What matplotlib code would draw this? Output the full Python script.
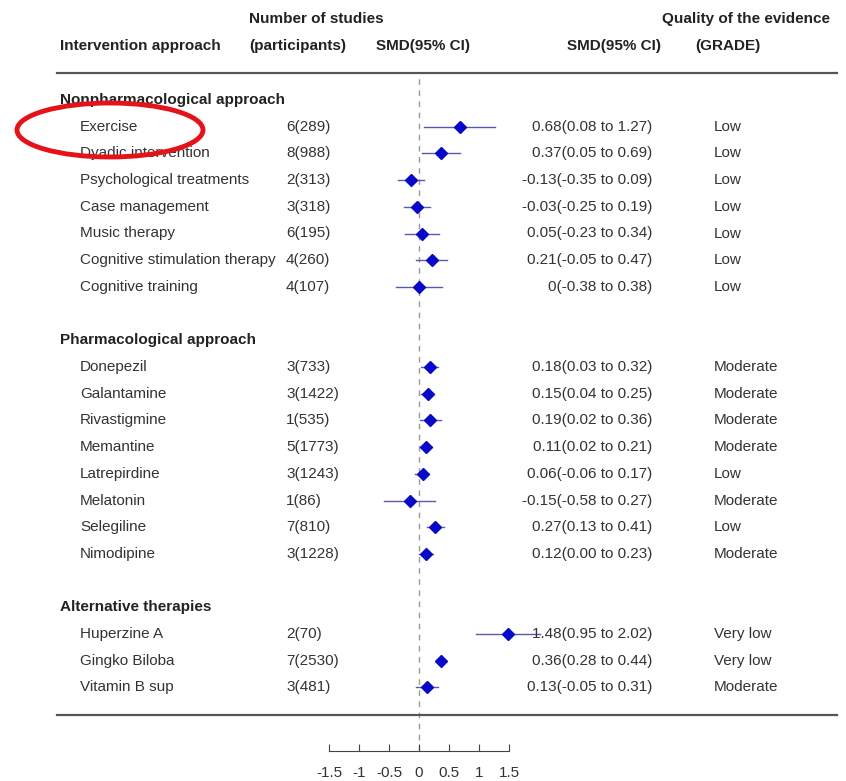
import matplotlib
matplotlib.use("Agg")
import matplotlib.pyplot as plt
from matplotlib import transforms
from matplotlib.lines import Line2D
from matplotlib.patches import Ellipse

plt.rcParams['font.family'] = ['Liberation Sans', 'DejaVu Sans']

# groups of the forest plot
groups = ["Nonpharmacological approach", "Pharmacological approach", "Alternative therapies"]

nonpharm_names = ["Exercise", "Dyadic intervention", "Psychological treatments", "Case management",
                  "Music therapy", "Cognitive stimulation therapy", "Cognitive training"]
nonpharm_studies = ["6(289)", "8(988)", "2(313)", "3(318)", "6(195)", "4(260)", "4(107)"]
nonpharm_smd = [0.68, 0.37, -0.13, -0.03, 0.05, 0.21, 0]
nonpharm_lo = [0.08, 0.05, -0.35, -0.25, -0.23, -0.05, -0.38]
nonpharm_hi = [1.27, 0.69, 0.09, 0.19, 0.34, 0.47, 0.38]
nonpharm_grade = ["Low", "Low", "Low", "Low", "Low", "Low", "Low"]

pharm_names = ["Donepezil", "Galantamine", "Rivastigmine", "Memantine", "Latrepirdine",
               "Melatonin", "Selegiline", "Nimodipine"]
pharm_studies = ["3(733)", "3(1422)", "1(535)", "5(1773)", "3(1243)", "1(86)", "7(810)", "3(1228)"]
pharm_smd = [0.18, 0.15, 0.19, 0.11, 0.06, -0.15, 0.27, 0.12]
pharm_lo = [0.03, 0.04, 0.02, 0.02, -0.06, -0.58, 0.13, 0.00]
pharm_hi = [0.32, 0.25, 0.36, 0.21, 0.17, 0.27, 0.41, 0.23]
pharm_grade = ["Moderate", "Moderate", "Moderate", "Moderate", "Low", "Moderate", "Low", "Moderate"]

alt_names = ["Huperzine A", "Gingko Biloba", "Vitamin B sup"]
alt_studies = ["2(70)", "7(2530)", "3(481)"]
alt_smd = [1.48, 0.36, 0.13]
alt_lo = [0.95, 0.28, -0.05]
alt_hi = [2.02, 0.44, 0.31]
alt_grade = ["Very low", "Very low", "Moderate"]

xticks = [-1.5, -1, -0.5, 0, 0.5, 1, 1.5]
xticklabels = ["-1.5", "-1", "-0.5", "0", "0.5", "1", "1.5"]

TXT = "#333333"
W, H = 846, 781

fig = plt.figure(figsize=(W / 100, H / 100), dpi=100)
# forest axes: x -2..2 maps to pixels 299..539, row 0 sits at y=100 px
row_h = 26.7
row0 = 100
ax = fig.add_axes([299 / W, 1 - 751 / H, 240 / W, (751 - 73) / H])
ax.set_xlim(-2, 2)
ax.set_ylim((751 - row0) / row_h, (73 - row0) / row_h)
for s in ["top", "left", "right"]:
    ax.spines[s].set_visible(False)
ax.spines["bottom"].set_bounds(-1.5, 1.5)
ax.spines["bottom"].set_color("#444444")
ax.set_yticks([])
ax.set_xticks(xticks)
ax.set_xticklabels(xticklabels)
ax.tick_params(axis="x", direction="in", length=5, pad=11, labelsize=11,
               colors="#444444", labelcolor=TXT)
ax.axvline(0, color="#999999", lw=1, ls=(0, (4, 4)), zorder=0)

trans = transforms.blended_transform_factory(fig.transFigure, ax.transData)

def fx(px):
    return px / W

def fmt(v):
    return "0" if v == 0 else f"{v:.2f}"

sections = [
    (nonpharm_names, nonpharm_studies, nonpharm_smd, nonpharm_lo, nonpharm_hi, nonpharm_grade),
    (pharm_names, pharm_studies, pharm_smd, pharm_lo, pharm_hi, pharm_grade),
    (alt_names, alt_studies, alt_smd, alt_lo, alt_hi, alt_grade),
]

row = 0
for title, (names, studies, smd, lo, hi, grade) in zip(groups, sections):
    ax.text(fx(60), row, title, transform=trans, ha="left", va="center",
            fontsize=11, fontweight="bold", color="#222222")
    row += 1
    for i in range(len(names)):
        ax.plot([lo[i], hi[i]], [row, row], color="#5a5aaa", lw=1, clip_on=False, zorder=2)
        ax.plot(smd[i], row, marker="D", ms=6, color="#0808c8", clip_on=False, zorder=3)
        ax.text(fx(80), row, names[i], transform=trans, ha="left", va="center", fontsize=11, color=TXT)
        ax.text(fx(286), row, studies[i], transform=trans, ha="left", va="center", fontsize=11, color=TXT)
        ax.text(fx(652), row, f"{fmt(smd[i])}({lo[i]:.2f} to {hi[i]:.2f})", transform=trans,
                ha="right", va="center", fontsize=11, color=TXT)
        ax.text(fx(714), row, grade[i], transform=trans, ha="left", va="center", fontsize=11, color=TXT)
        row += 1
    row += 1

# column headers
hdr = dict(fontsize=11, fontweight="bold", color="#222222", va="center", ha="left")
fig.text(fx(249), 1 - 19 / H, "Number of studies", **hdr)
fig.text(fx(662), 1 - 19 / H, "Quality of the evidence", **hdr)
fig.text(fx(60), 1 - 46 / H, "Intervention approach", **hdr)
fig.text(fx(249), 1 - 46 / H, "(participants)", **hdr)
fig.text(fx(376), 1 - 46 / H, "SMD(95% CI)", **hdr)
fig.text(fx(567), 1 - 46 / H, "SMD(95% CI)", **hdr)
fig.text(fx(695), 1 - 46 / H, "(GRADE)", **hdr)

# horizontal rules
for yp in (73, 715):
    fig.add_artist(Line2D([57 / W, 837 / W], [1 - yp / H] * 2, transform=fig.transFigure,
                          color="#555555", lw=1.6))

# red highlight around "Exercise"
fig.add_artist(Ellipse((110 / W, 1 - 130 / H), 186 / W, 54 / H, transform=fig.transFigure,
                       fill=False, edgecolor="#e5121a", lw=3.5))

fig.savefig("out.png", dpi=100)
